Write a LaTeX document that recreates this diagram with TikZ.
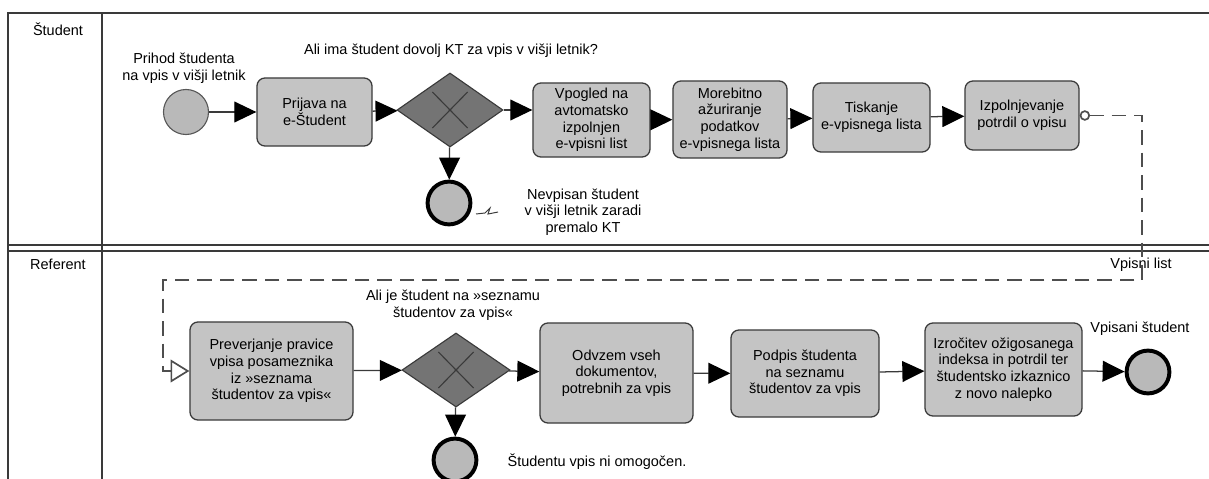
\documentclass[tikz,border=0pt]{standalone}
\usepackage{fontspec}
\setmainfont{Liberation Sans}
\usetikzlibrary{shapes.geometric,arrows.meta}

\definecolor{taskgray}{HTML}{C4C4C4}
\definecolor{gategray}{HTML}{747474}
\definecolor{eventgray}{HTML}{B9B9B9}
\definecolor{linegray}{HTML}{3A3A3A}

\tikzset{
  task/.style={draw=linegray, line width=0.9pt, fill=taskgray, rounded corners=0.2cm, align=center, inner sep=0pt},
  gate/.style={diamond, draw=linegray, line width=0.8pt, fill=gategray, minimum width=2.65cm, minimum height=1.85cm, inner sep=0pt,
    path picture={\draw[line width=0.8pt, linegray]
      ([shift={(-0.44cm,-0.45cm)}]path picture bounding box.center) -- ([shift={(0.44cm,0.45cm)}]path picture bounding box.center)
      ([shift={(-0.44cm,0.45cm)}]path picture bounding box.center) -- ([shift={(0.44cm,-0.45cm)}]path picture bounding box.center);}},
  startev/.style={circle, draw=linegray!85, fill=eventgray, line width=0.8pt, minimum size=1.125cm},
  endev/.style={circle, draw=black, fill=eventgray, line width=2.8pt, minimum size=1.07cm},
  flow/.style={draw=linegray, line width=0.9pt, -{Triangle[length=0.55cm,width=0.52cm,black]}},
  msg/.style={draw=linegray!90, line width=1.2pt, dash pattern=on 10.5pt off 5.5pt,
    {Circle[open,length=0.26cm,width=0.26cm,fill=white]}-{Triangle[open,length=0.47cm,width=0.57cm,fill=white]}},
  lbl/.style={align=center, inner sep=0pt},
  lane/.style={draw=linegray, line width=1pt},
}

\begin{document}
\begin{tikzpicture}[x=0.025cm, y=-0.025cm, every node/.style={font=\fontsize{10.3}{11.8}\selectfont}]
  \useasboundingbox (0,0) rectangle (1209,479);

  \draw[lane] (8,479) -- (8,13) -- (1209,13);
  \draw[lane] (102,13) -- (102,479);
  \draw[lane] (8,245) -- (1209,245);
  \draw[lane] (8,251) -- (1209,251);
  \node (lstudent) at (58,29) {Študent};
  \node (lreferent) at (58,264) {Referent};

  \node[startev] (start) at (186,112) {};
  \node[lbl] (lstart) at (184,68) {Prihod študenta\\na vpis v višji letnik};
  \node[task, minimum width=2.875cm, minimum height=1.7cm] (prijava) at (314.5,112) {Prijava na\\e-Študent};
  \node[gate] (gw1) at (450,110) {};
  \node[lbl] (lgw1) at (451,51) {Ali ima študent dovolj KT za vpis v višji letnik?};
  \node[endev] (nevpisan) at (449,203) {};
  \node[lbl] (lnevpisan) at (583,212) {Nevpisan študent\\v višji letnik zaradi\\premalo KT};
  \node[task, minimum width=2.925cm, minimum height=1.85cm] (vpogled) at (591.5,120) {Vpogled na\\avtomatsko\\izpolnjen\\e-vpisni list};
  \node[task, minimum width=2.85cm, minimum height=1.925cm] (morebitno) at (730,119.5) {Morebitno\\ažuriranje\\podatkov\\e-vpisnega lista};
  \node[task, minimum width=2.925cm, minimum height=1.725cm] (tiskanje) at (871.5,117.5) {Tiskanje\\e-vpisnega lista};
  \node[task, minimum width=2.85cm, minimum height=1.725cm] (izpolnjevanje) at (1022,115.5) {Izpolnjevanje\\potrdil o vpisu};

  \node[task, minimum width=4.075cm, minimum height=2.45cm] (preverjanje) at (271.5,371) {Preverjanje pravice\\vpisa posameznika\\iz »seznama\\študentov za vpis«};
  \node[gate, minimum width=2.7cm] (gw2) at (456,370) {};
  \node[lbl] (lgw2) at (453,305) {Ali je študent na »seznamu\\študentov za vpis«};
  \node[endev] (neomogocen) at (455,460) {};
  \node[lbl] (lneomogocen) at (597,462) {Študentu vpis ni omogočen.};
  \node[task, minimum width=3.825cm, minimum height=2.5cm] (odvzem) at (616.5,373) {Odvzem vseh\\dokumentov,\\potrebnih za vpis};
  \node[task, minimum width=3.7cm, minimum height=2.175cm] (podpis) at (805,373.5) {Podpis študenta\\na seznamu\\študentov za vpis};
  \node[task, minimum width=3.925cm, minimum height=2.325cm] (izrocitev) at (1003.5,369.5) {Izročitev ožigosanega\\indeksa in potrdil ter\\študentsko izkaznico\\z novo nalepko};
  \node[endev] (vpisani) at (1148,372) {};
  \node[lbl] (lvpisani) at (1140,329) {Vpisani študent};

  \draw[flow] (start) -- (prijava);
  \draw[flow] (prijava) -- (gw1);
  \draw[flow] (gw1) -- (nevpisan);
  \draw[flow] (gw1) -- (gw1 -| vpogled.west);
  \draw[flow] (vpogled) -- (morebitno);
  \draw[flow] (morebitno) -- (tiskanje);
  \draw[flow] (tiskanje) -- (izpolnjevanje);
  \draw[linegray, line width=0.7pt] (476,214) -- (485,213) -- (490,208) -- (488,214) -- (498,212);

  \coordinate (mtop) at (1142,280);
  \coordinate (mleft) at (163,280);
  \draw[msg] (izpolnjevanje.east) -| (mtop) -- (mleft) |- (preverjanje.west);
  \node[lbl] (lmsg) at (1141,265) {Vpisni list};

  \draw[flow] (preverjanje) -- (gw2);
  \draw[flow] (gw2) -- (neomogocen);
  \draw[flow] (gw2) -- (odvzem);
  \draw[flow] (odvzem) -- (podpis);
  \draw[flow] (podpis) -- (izrocitev);
  \draw[flow] (izrocitev) -- (vpisani);
\end{tikzpicture}
\end{document}
